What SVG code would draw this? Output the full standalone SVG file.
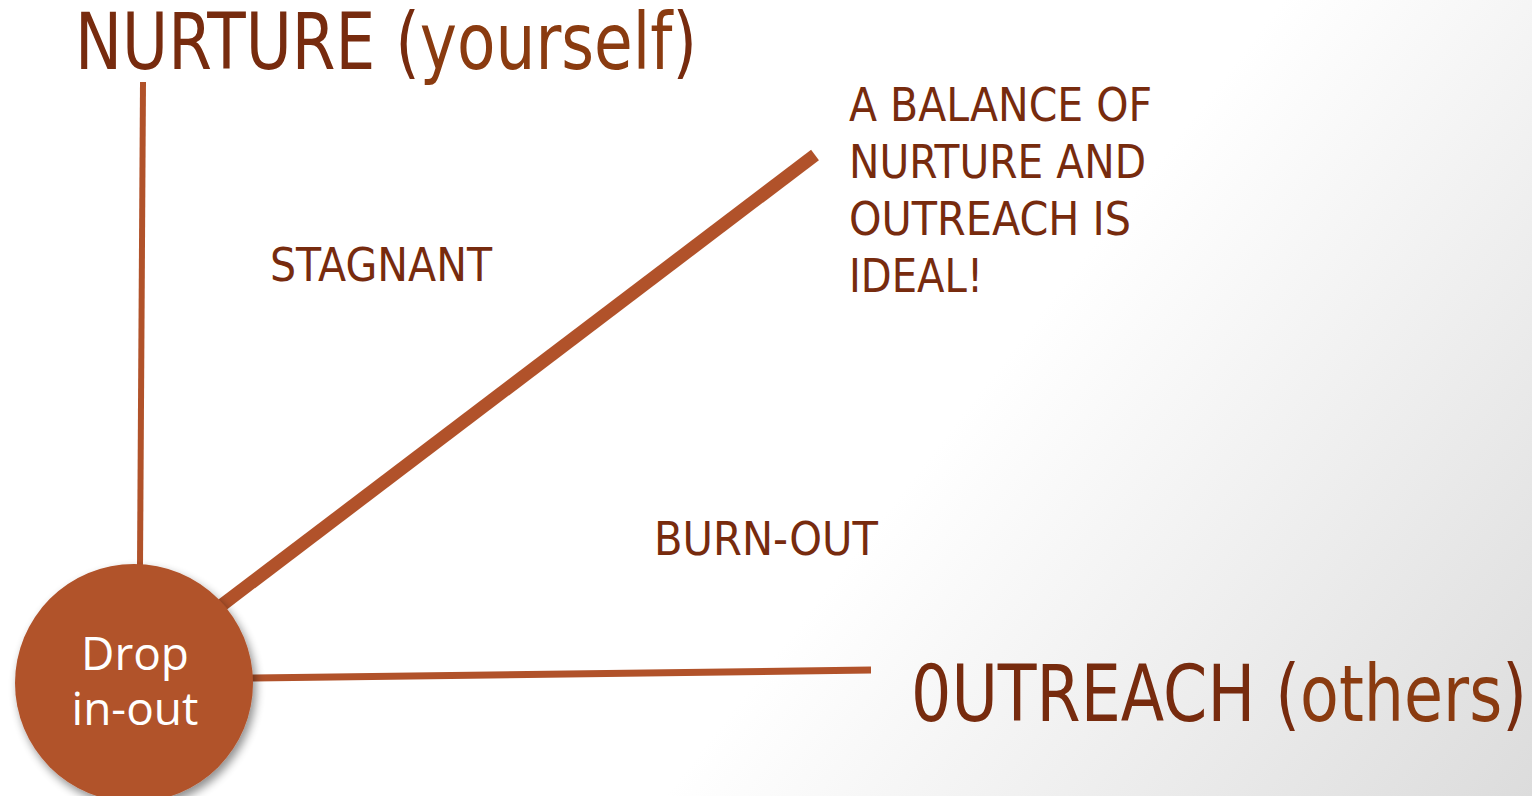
<svg xmlns="http://www.w3.org/2000/svg" width="1532" height="796" viewBox="0 0 1532 796">
<defs>
<linearGradient id="bg" x1="700" y1="150" x2="1532" y2="796" gradientUnits="userSpaceOnUse">
<stop offset="0.35" stop-color="#ffffff"/>
<stop offset="1" stop-color="#dcdcdc"/>
</linearGradient>
<filter id="sh" x="-20%" y="-20%" width="150%" height="150%">
<feGaussianBlur in="SourceAlpha" stdDeviation="5"/>
<feOffset dx="3" dy="5"/>
<feComponentTransfer><feFuncA type="linear" slope="0.45"/></feComponentTransfer>
<feMerge><feMergeNode/><feMergeNode in="SourceGraphic"/></feMerge>
</filter>
<style>
.t{font-family:"DejaVu Sans",Verdana,sans-serif;fill:#772b0e}
.l{fill:#8a3b10}
.ln{stroke:#b1522a;fill:none;stroke-linecap:butt}
</style>
</defs>
<rect width="1532" height="796" fill="url(#bg)"/>
<g id="connectors">
<line class="ln" x1="143" y1="82" x2="140" y2="567" stroke-width="6"/>
<line class="ln" x1="815" y1="155" x2="222" y2="605" stroke-width="13"/>
<line class="ln" x1="250" y1="678" x2="871" y2="670" stroke-width="7"/>
</g>
<g id="node-drop">
<circle cx="134" cy="683" r="119" fill="#b1522a" filter="url(#sh)"/>
<text x="135" y="670" font-size="46" text-anchor="middle" fill="#ffffff" font-family="'Open Sans','Noto Sans',sans-serif">Drop</text>
<text x="135" y="725" font-size="46" text-anchor="middle" fill="#ffffff" font-family="'Open Sans','Noto Sans',sans-serif">in-out</text>
</g>
<g id="label-nurture">
<text class="t" x="75" y="69" font-size="78" textLength="622" lengthAdjust="spacingAndGlyphs">NURTURE (<tspan class="l">yourself</tspan>)</text>
</g>
<g id="label-outreach">
<text class="t" x="911" y="721" font-size="78" textLength="616" lengthAdjust="spacingAndGlyphs">0UTREACH (<tspan class="l">others</tspan>)</text>
</g>
<g id="label-stagnant">
<text class="t" x="270" y="281" font-size="47" textLength="222" lengthAdjust="spacingAndGlyphs">STAGNANT</text>
</g>
<g id="label-burnout">
<text class="t" x="654" y="555" font-size="47" textLength="224" lengthAdjust="spacingAndGlyphs">BURN-OUT</text>
</g>
<g id="label-balance">
<text class="t" x="849" y="121" font-size="47" textLength="303" lengthAdjust="spacingAndGlyphs">A BALANCE OF</text>
<text class="t" x="849" y="178" font-size="47" textLength="297" lengthAdjust="spacingAndGlyphs">NURTURE AND</text>
<text class="t" x="849" y="235" font-size="47" textLength="282" lengthAdjust="spacingAndGlyphs">OUTREACH IS</text>
<text class="t" x="849" y="292" font-size="47" textLength="134" lengthAdjust="spacingAndGlyphs">IDEAL!</text>
</g>
</svg>
